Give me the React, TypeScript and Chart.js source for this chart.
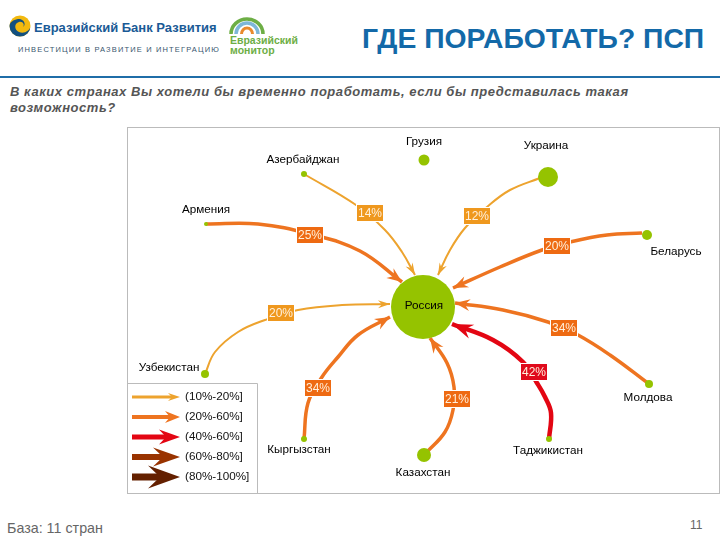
import React, { useRef, useEffect } from 'react';
import { Chart, registerables } from 'chart.js';

Chart.register(...registerables);

const FONT = '"Liberation Sans", Arial, sans-serif';

// countries on the map, Russia first (map coordinates)
const nodeNames = ['Россия', 'Грузия', 'Азербайджан', 'Армения', 'Украина', 'Беларусь', 'Молдова', 'Таджикистан', 'Казахстан', 'Кыргызстан', 'Узбекистан'];
const nodeX = [423, 424, 304, 206, 548, 647, 649, 549, 424, 304, 205];
const nodeY = [307, 160, 174, 224, 177, 235, 384, 439, 455, 439, 374];
const nodeSize = [32, 5.5, 3, 2, 10, 5, 4, 3, 7, 3, 4];
const nameX = [424, 424, 303, 206, 546, 676, 648, 548, 423, 299, 169];
const nameY = [306, 142, 160, 210, 146, 252, 398, 451, 473, 450, 368];

// flows to Russia
const flowShares = [14, 25, 12, 20, 34, 42, 21, 34, 20];
const flowBands = [0, 1, 0, 1, 1, 2, 1, 1, 0];
const flowLabelX = [370, 310, 477, 557, 564, 534, 457, 318, 281];
const flowLabelY = [213, 235, 216, 246, 328, 372, 399, 388, 313];
const flowPathX = [
  [304, 356, 385, 402, 415],
  [206, 258, 310, 360, 402],
  [540, 510, 487, 465, 450, 438],
  [642, 607, 570, 542, 500, 453],
  [649, 610, 578, 548, 503, 455],
  [549, 551, 545, 537, 523, 493, 452],
  [426, 445, 453, 454, 447, 430],
  [304, 308, 322, 338, 358, 390],
  [205, 215, 238, 265, 298, 342, 390],
];
const flowPathY = [
  [174, 205, 230, 252, 275],
  [224, 224, 234, 251, 282],
  [178, 190, 207, 228, 250, 275],
  [233, 235, 242, 250, 267, 288],
  [384, 355, 335, 322, 310, 303],
  [439, 413, 397, 383, 362, 340, 324],
  [453, 432, 410, 387, 363, 338],
  [439, 403, 377, 357, 335, 317],
  [374, 352, 332, 320, 310, 305, 304],
];

// legend
const bandLabels = ['(10%-20%]', '(20%-60%]', '(40%-60%]', '(60%-80%]', '(80%-100%]'];
const bandColors = ['#EDA32E', '#EE7420', '#E30613', '#993300', '#642000'];
const bandBoxColors = ['#EF981E', '#EE6A12', '#E00A1C', '#993300', '#642000'];
const bandWidths = [2, 3.5, 4.5, 5.5, 6.5];
const legendWidths = [3, 4, 5, 6, 7];
const legendY = [397, 417, 437, 457, 477];
const legendStartX = 132;
const legendEndX = 180;
const legendTextX = 185;

const headShapes = [
  { length: 12, wing: 4, notch: 8 },
  { length: 15, wing: 6, notch: 10 },
  { length: 21, wing: 7.5, notch: 14 },
  { length: 27, wing: 9.5, notch: 17 },
  { length: 32, wing: 11.5, notch: 20 },
];

const NODE_GREEN = '#95C300';

const drawHead = (ctx: CanvasRenderingContext2D, x0: number, y0: number, x1: number, y1: number, band: number) => {
  const { length, wing, notch } = headShapes[band];
  const a = Math.atan2(y1 - y0, x1 - x0);
  ctx.save();
  ctx.translate(x1, y1);
  ctx.rotate(a);
  ctx.fillStyle = bandColors[band];
  ctx.beginPath();
  ctx.moveTo(0, 0);
  ctx.lineTo(-length, -wing);
  ctx.lineTo(-notch, 0);
  ctx.lineTo(-length, wing);
  ctx.closePath();
  ctx.fill();
  ctx.restore();
};

const mapOverlay = {
  id: 'mapOverlay',
  afterDatasetsDraw(chart: any) {
    const { ctx, scales } = chart;
    const px = (v: number) => scales.x.getPixelForValue(v);
    const py = (v: number) => scales.y.getPixelForValue(v);
    ctx.save();

    // arrow heads follow the end tangent of each curve
    flowPathX.forEach((xs, i) => {
      const points = chart.getDatasetMeta(i + 1 + legendY.length).data;
      const end = points[xs.length - 1];
      drawHead(ctx, end.cp1x, end.cp1y, end.x, end.y, flowBands[i]);
    });
    legendY.forEach((y, band) => {
      drawHead(ctx, px(legendStartX), py(y), px(legendEndX), py(y), band);
    });

    // share boxes
    ctx.textAlign = 'center';
    ctx.textBaseline = 'middle';
    ctx.font = `12px ${FONT}`;
    flowShares.forEach((share, i) => {
      const x = px(flowLabelX[i]);
      const y = py(flowLabelY[i]);
      ctx.fillStyle = '#FFFFFF';
      ctx.fillRect(x - 14, y - 9, 28, 18);
      ctx.fillStyle = bandBoxColors[flowBands[i]];
      ctx.fillRect(x - 13, y - 8, 26, 16);
      ctx.fillStyle = '#FFF0DC';
      ctx.fillText(`${share}%`, x, y + 0.5);
    });

    // country names
    ctx.fillStyle = '#000000';
    ctx.font = `11.7px ${FONT}`;
    nodeNames.forEach((name, i) => {
      ctx.fillText(name, px(nameX[i]), py(nameY[i]));
    });

    // legend text and frame
    ctx.fillStyle = '#111111';
    ctx.textAlign = 'left';
    bandLabels.forEach((label, i) => {
      ctx.fillText(label, px(legendTextX), py(legendY[i]));
    });
    ctx.strokeStyle = '#BBBBBB';
    ctx.lineWidth = 1;
    ctx.beginPath();
    ctx.moveTo(px(128), py(383.5));
    ctx.lineTo(px(257.5), py(383.5));
    ctx.lineTo(px(257.5), py(493));
    ctx.stroke();
    ctx.restore();
  },
};

const textStyle = (left: number, top: number, extra: React.CSSProperties): React.CSSProperties => ({
  position: 'absolute',
  left,
  top,
  fontFamily: FONT,
  whiteSpace: 'nowrap',
  ...extra,
});

const App: React.FC = () => {
  const chartRef = useRef<HTMLCanvasElement | null>(null);
  const chartInstance = useRef<Chart | null>(null);

  useEffect(() => {
    document.body.style.margin = '0';
    const ctx = chartRef.current?.getContext('2d');
    if (!ctx) return;

    const flowSets = flowPathX.map((xs, i) => ({
      type: 'line' as const,
      label: `flow ${flowShares[i]}%`,
      data: xs.map((x, k) => ({ x, y: flowPathY[i][k] })),
      borderColor: bandColors[flowBands[i]],
      borderWidth: bandWidths[flowBands[i]],
      tension: 0.4,
      pointRadius: 0,
      fill: false,
      order: 3,
    }));

    const legendSets = legendY.map((y, band) => ({
      type: 'line' as const,
      label: bandLabels[band],
      data: [{ x: legendStartX, y }, { x: legendEndX - headShapes[band].notch + 2, y }],
      borderColor: bandColors[band],
      borderWidth: legendWidths[band],
      pointRadius: 0,
      fill: false,
      order: 2,
    }));

    const nodeSet = {
      type: 'bubble' as const,
      label: 'Страны',
      data: nodeX.map((x, i) => ({ x, y: nodeY[i], r: nodeSize[i] })),
      backgroundColor: NODE_GREEN,
      borderWidth: 0,
      order: 1,
    };

    chartInstance.current = new Chart(ctx, {
      type: 'line',
      data: { datasets: [nodeSet, ...legendSets, ...flowSets] as any },
      plugins: [mapOverlay],
      options: {
        responsive: false,
        animation: false,
        devicePixelRatio: 1,
        layout: { padding: 0, autoPadding: false },
        plugins: { legend: { display: false }, tooltip: { enabled: false } },
        scales: {
          x: { type: 'linear', display: false, min: 128, max: 719 },
          y: { type: 'linear', display: false, min: 128, max: 493, reverse: true },
        },
      },
    });

    return () => {
      chartInstance.current?.destroy();
    };
  }, []);

  return (
    <div style={{ position: 'relative', width: 720, height: 540, background: '#fff', overflow: 'hidden' }}>
      {/* bank logo */}
      <svg width={30} height={30} viewBox="0 0 30 30" style={{ position: 'absolute', left: 5, top: 11 }}>
        <circle cx="15" cy="15" r="10.5" fill="#F2B90F" />
        <path d="M4.5 15 A10.5 10.5 0 0 0 25.5 15 C25 20 19 23 14 21 C9 19 9 12 14 11 C18 10 20 14 18 16 C22 13 18 7 13 8 C8 9 5 11 4.5 15Z" fill="#12507F" />
      </svg>
      <div style={textStyle(34, 20, { fontSize: 13, fontWeight: 700, color: '#1A5A96' })}>Евразийский Банк Развития</div>
      <div style={textStyle(18, 45, { fontSize: 7.5, color: '#38566E', letterSpacing: 1.15 })}>ИНВЕСТИЦИИ В РАЗВИТИЕ И ИНТЕГРАЦИЮ</div>

      {/* monitor logo */}
      <svg width={40} height={22} viewBox="0 0 40 22" style={{ position: 'absolute', left: 227, top: 14 }}>
        <path d="M4 20 A16 15 0 0 1 36 20" fill="none" stroke="#6DAE45" strokeWidth="3.5" />
        <path d="M9 20 A11 11 0 0 1 31 20" fill="none" stroke="#7DB7D8" strokeWidth="3.5" />
        <path d="M14.500 20 A5.500 6 0 0 1 25.500 20" fill="none" stroke="#E98A2C" strokeWidth="3" />
      </svg>
      <div style={textStyle(230, 35, { fontSize: 10.5, fontWeight: 700, color: '#6DAE45', lineHeight: '10px' })}>
        Евразийский
        <br />
        монитор
      </div>

      <div style={textStyle(362, 22, { fontSize: 28.3, fontWeight: 700, color: '#1369A8' })}>ГДЕ ПОРАБОТАТЬ? ПСП</div>
      <div style={{ position: 'absolute', left: 0, top: 76, width: 720, height: 2, background: '#1F6DA8' }} />
      <div style={textStyle(10, 84, { fontSize: 13, fontWeight: 700, fontStyle: 'italic', color: '#555555', lineHeight: '16px', letterSpacing: 0.55 })}>
        В каких странах Вы хотели бы временно поработать, если бы представилась такая
        <br />
        возможность?
      </div>

      <canvas
        ref={chartRef}
        width={591}
        height={365}
        style={{ position: 'absolute', left: 127, top: 127, border: '1px solid #BBBBBB', boxSizing: 'content-box' }}
      />

      <div style={textStyle(7, 520, { fontSize: 14.3, color: '#666666' })}>База: 11 стран</div>
      <div style={textStyle(690, 518, { fontSize: 12, color: '#666666' })}>11</div>
    </div>
  );
};

export default App;
